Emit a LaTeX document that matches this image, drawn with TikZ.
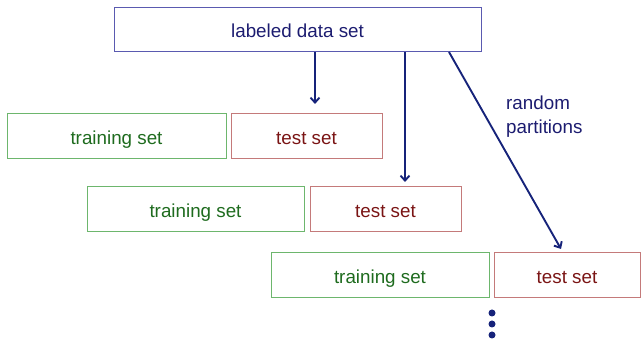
\documentclass[tikz,border=0pt]{standalone}
\usepackage{fontspec}
\setmainfont{Liberation Sans}
\usetikzlibrary{arrows.meta}
\definecolor{bbord}{HTML}{5A5AB0}
\definecolor{btext}{HTML}{1C1C70}
\definecolor{gbord}{HTML}{6DB66D}
\definecolor{gtext}{HTML}{1E6B1E}
\definecolor{rbord}{HTML}{C47A7A}
\definecolor{rtext}{HTML}{7A1414}
\definecolor{arr}{HTML}{16237A}
\begin{document}
\begin{tikzpicture}[x=1pt,y=-1pt,
  box/.style={draw, line width=1pt, inner sep=0pt, text height=16pt, text depth=0pt, font=\fontsize{18.8}{21}\selectfont},
  trainbox/.style={box, draw=gbord, text=gtext, minimum height=45pt},
  testbox/.style={box, draw=rbord, text=rtext, minimum height=45pt},
  conn/.style={draw=arr, line width=1.9pt, -{Straight Barb[length=5pt,width=9pt]}},
  dot/.style={circle, fill=arr, inner sep=0pt, minimum size=7pt}]
\useasboundingbox (0,0) rectangle (641,339);
\node[box, draw=bbord, text=btext, minimum width=367pt, minimum height=44pt] (data) at (297.5,30) {labeled data set};
\node[trainbox, minimum width=219pt] (tr1) at (116.5,136.5) {training set};
\node[testbox, minimum width=151pt] (te1) at (306.5,136.5) {test set};
\node[trainbox, minimum width=217pt] (tr2) at (195.5,209.5) {training set};
\node[testbox, minimum width=151pt] (te2) at (385.5,209.5) {test set};
\node[trainbox, minimum width=218pt] (tr3) at (380,275.5) {training set};
\node[testbox, minimum width=146pt] (te3) at (567,275.5) {test set};
\coordinate (a1) at (315,104);
\coordinate (a2) at (405,182);
\coordinate (a3) at (561,249);
\draw[conn] (data.south -| a1) -- (a1);
\draw[conn] (data.south -| a2) -- (a2);
\draw[conn] (449,52) -- (a3);
\node[anchor=north west, align=left, text=btext, font=\fontsize{18.8}{24}\selectfont, inner sep=0pt] (lbl) at (506,95.5) {random\\partitions};
\node[dot] (d1) at (492,313) {};
\node[dot] (d2) at (492,324) {};
\node[dot] (d3) at (492,335) {};
\end{tikzpicture}
\end{document}
